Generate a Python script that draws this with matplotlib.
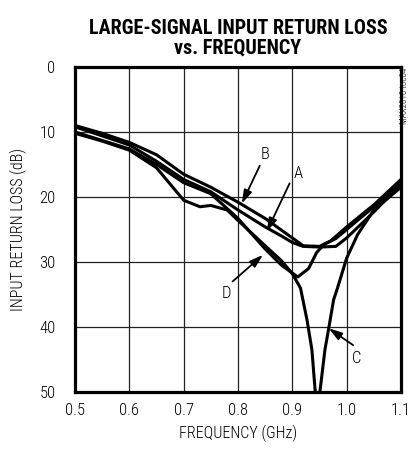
import matplotlib
matplotlib.use("Agg")
import matplotlib.pyplot as plt

plt.rcParams['font.family'] = ['Roboto Condensed', 'DejaVu Sans']

# Curve data (frequency in GHz, return loss in dB)
freq_a = [0.50, 0.55, 0.60, 0.65, 0.70, 0.75, 0.80, 0.85, 0.88, 0.90, 0.92, 0.95, 0.98, 1.00, 1.05, 1.10]
loss_a = [9.2, 10.6, 12.0, 14.5, 17.3, 19.2, 22.0, 24.6, 26.0, 27.0, 27.6, 27.7, 27.6, 26.3, 22.3, 18.0]

freq_b = [0.50, 0.55, 0.60, 0.65, 0.70, 0.75, 0.80, 0.85, 0.90, 0.92, 0.95, 0.97, 1.00, 1.05, 1.10]
loss_b = [9.0, 10.2, 11.6, 13.5, 16.5, 18.5, 20.8, 23.3, 26.3, 27.5, 27.6, 26.8, 24.6, 21.2, 17.3]

freq_c = [0.50, 0.55, 0.60, 0.65, 0.70, 0.73, 0.75, 0.78, 0.80, 0.85, 0.88, 0.90, 0.915, 0.927,
          0.936, 0.942, 0.9465, 0.951, 0.96, 0.967, 0.976, 0.982, 1.00, 1.02, 1.05, 1.10]
loss_c = [10.2, 11.4, 12.8, 15.5, 20.5, 21.5, 21.3, 22.0, 23.6, 27.5, 29.8, 31.8, 34.0, 38.9,
          43.5, 49.8, 53.0, 49.8, 43.5, 40.2, 35.8, 34.3, 29.4, 25.8, 22.0, 18.5]

freq_d = [0.50, 0.55, 0.60, 0.65, 0.70, 0.75, 0.80, 0.85, 0.88, 0.91, 0.93, 0.945, 0.96, 0.98, 1.00, 1.05, 1.10]
loss_d = [10.0, 11.3, 12.6, 15.0, 17.8, 19.5, 23.3, 28.0, 30.5, 32.3, 31.0, 28.5, 27.2, 26.4, 25.0, 21.5, 17.8]

x_ticks = [0.5, 0.6, 0.7, 0.8, 0.9, 1.0, 1.1]
x_labels = ['0.5', '0.6', '0.7', '0.8', '0.9', '1.0', '1.1']
y_ticks = [0, 10, 20, 30, 40, 50]

# label text, label pos, arrow tail, arrow tip
labels = [('A', (0.911, 16.4), (0.895, 17.9), (0.853, 25.3)),
          ('B', (0.850, 13.5), (0.840, 15.2), (0.807, 21.0)),
          ('C', (1.019, 44.8), (1.012, 42.8), (0.967, 40.2)),
          ('D', (0.779, 34.8), (0.790, 33.0), (0.846, 28.9))]

fig = plt.figure(figsize=(4.14, 4.53), dpi=100)
ax = fig.add_axes([75 / 414, 1 - 392 / 453, 326 / 414, 325 / 453])

for f, l in [(freq_a, loss_a), (freq_b, loss_b), (freq_c, loss_c), (freq_d, loss_d)]:
    ax.plot(f, l, color='black', lw=2.2, solid_joinstyle='round', solid_capstyle='round')

ax.set_xlim(0.5, 1.1)
ax.set_ylim(50, 0)
ax.set_xticks(x_ticks)
ax.set_xticklabels(x_labels, fontweight='light')
ax.set_yticks(y_ticks)
ax.set_yticklabels([str(v) for v in y_ticks], fontweight='light')
ax.grid(True, color='#222222', lw=0.9)
ax.tick_params(length=0, labelsize=12)
ax.tick_params(axis='y', pad=14)
ax.tick_params(axis='x', pad=8)
for s in ax.spines.values():
    s.set_linewidth(2.3)

ax.set_xlabel('FREQUENCY (GHz)', fontsize=11.5, fontweight='light', labelpad=5)
ax.set_ylabel('INPUT RETURN LOSS (dB)', fontsize=11.5, fontweight='light', labelpad=9)

for text, (tx, ty), (ax0, ay0), (hx, hy) in labels:
    ax.annotate('', xy=(hx, hy), xytext=(ax0, ay0),
                arrowprops=dict(arrowstyle='-|>,head_length=0.8,head_width=0.25', color='black', lw=1.3,
                                shrinkA=0, shrinkB=0))
    ax.text(tx, ty, text, fontsize=12, fontweight='light', ha='center', va='center')

fig.text(238 / 414, 1 - 38 / 453, 'LARGE-SIGNAL INPUT RETURN LOSS\nvs. FREQUENCY',
         ha='center', va='center', fontsize=14.5, fontweight='heavy', linespacing=1.05)
fig.text(405 / 414, 1 - 96 / 453, 'MAX2010 toc04', rotation=90, ha='center', va='center',
         fontsize=6.5, fontweight='light')

fig.savefig('out.png', dpi=100)
